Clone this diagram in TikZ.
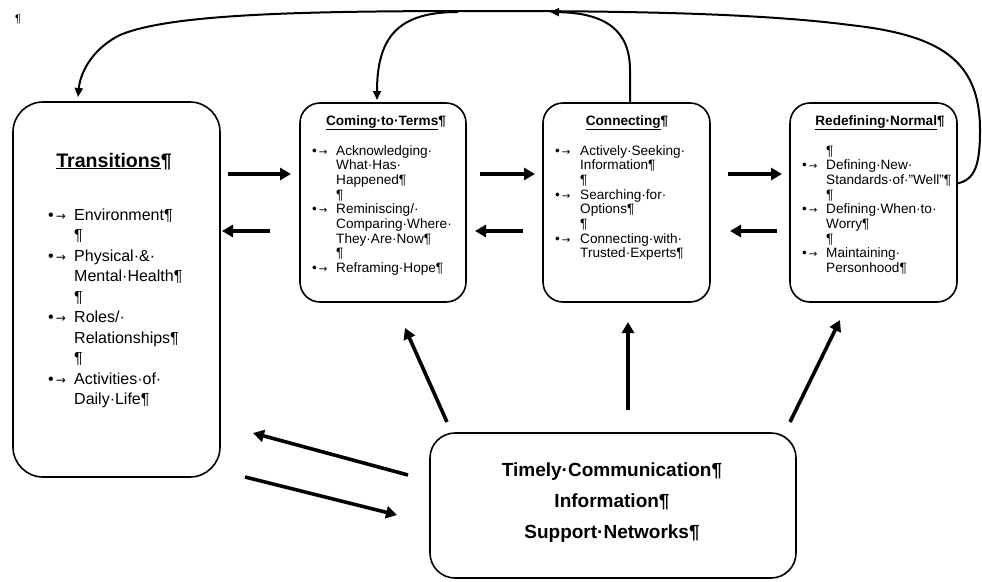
\documentclass[tikz,border=0pt]{standalone}
\usepackage{fontspec}
\setmainfont{Liberation Sans}
\newfontfamily\arrowfont{DejaVu Sans}
\usetikzlibrary{arrows.meta,calc}
\newcommand{\bu}{•\hspace{2pt}\scalebox{0.75}{\arrowfont →}}
\begin{document}
\begin{tikzpicture}[x=1pt,y=-1pt,
  box/.style={draw, line width=1.6pt, rounded corners=#1, inner sep=0pt, outer sep=0pt},
  fat/.style={line width=3.6pt, -{Triangle[length=11pt,width=12pt]}},
  curvy/.style={line width=2pt, -{Triangle[length=9pt,width=8pt]}},
  ttl/.style={anchor=base, font=\bfseries\fontsize{13.6}{15}\selectfont},
  lst/.style={anchor=base west, inner sep=0pt, font=\fontsize{13.6}{14.7}\selectfont},
  big/.style={anchor=base, font=\bfseries\fontsize{19}{22}\selectfont}
]
\useasboundingbox (0,0) rectangle (982,581);

% boxes
\node[box=30pt, minimum width=207pt, minimum height=375pt] (tr) at (116.5,289.5) {};
\node[box=20pt, minimum width=166pt, minimum height=199pt] (ct) at (383,202.5) {};
\node[box=20pt, minimum width=167pt, minimum height=199pt] (cn) at (626.5,202.5) {};
\node[box=20pt, minimum width=167pt, minimum height=199pt] (rn) at (873.5,202.5) {};
\node[box=25pt, minimum width=366pt, minimum height=145pt] (sp) at (613,505.5) {};

% top-left mark
\node[anchor=base, font=\fontsize{11}{11}\selectfont] (pm) at (18,22) {¶};

% Transitions
\node[anchor=base, font=\bfseries\fontsize{19.6}{22}\selectfont] (trt) at (114,167) {\underline{Transitions}¶};
\node[anchor=base west, inner sep=0pt, font=\fontsize{16}{20.5}\selectfont] (trl) at (48,220) {%
\begin{tabular}[t]{@{}p{26pt}@{}l@{}}
\bu & Environment¶\\
 & ¶\\
\bu & Physical·\&·\\
 & Mental·Health¶\\
 & ¶\\
\bu & Roles/·\\
 & Relationships¶\\
 & ¶\\
\bu & Activities·of·\\
 & Daily·Life¶
\end{tabular}};

% Coming to Terms
\node[ttl] (ctt) at (386,125) {\underline{Coming·to·Terms}¶};
\node[lst] (ctl) at (312,155) {%
\begin{tabular}[t]{@{}p{24pt}@{}l@{}}
\bu & Acknowledging·\\
 & What·Has·\\
 & Happened¶\\
 & ¶\\
\bu & Reminiscing/·\\
 & Comparing·Where·\\
 & They·Are·Now¶\\
 & ¶\\
\bu & Reframing·Hope¶
\end{tabular}};

% Connecting
\node[ttl] (cnt) at (627,125) {\underline{Connecting}¶};
\node[lst] (cnl) at (555,155) {%
\begin{tabular}[t]{@{}p{25pt}@{}l@{}}
\bu & Actively·Seeking·\\
 & Information¶\\
 & ¶\\
\bu & Searching·for·\\
 & Options¶\\
 & ¶\\
\bu & Connecting·with·\\
 & Trusted·Experts¶
\end{tabular}};

% Redefining Normal
\node[ttl] (rnt) at (880,125) {\underline{Redefining·Normal}¶};
\node[lst] (rnl) at (802,155) {%
\begin{tabular}[t]{@{}p{24pt}@{}l@{}}
 & ¶\\
\bu & Defining·New·\\
 & Standards·of·"Well"¶\\
 & ¶\\
\bu & Defining·When·to·\\
 & Worry¶\\
 & ¶\\
\bu & Maintaining·\\
 & Personhood¶
\end{tabular}};

% bottom box
\node[big] (b1) at (612,476) {Timely·Communication¶};
\node[big] (b2) at (612,507) {Information¶};
\node[big] (b3) at (612,538) {Support·Networks¶};

% row coordinates
\coordinate (r1) at (0,174);
\coordinate (r2) at (0,231);

% horizontal arrows
\draw[fat] ($(tr.east |- r1)+(8,0)$) -- ($(ct.west |- r1)+(-9,0)$);
\draw[fat] ($(ct.west |- r2)+(-30,0)$) -- ($(tr.east |- r2)+(2,0)$);
\draw[fat] ($(ct.east |- r1)+(14,0)$) -- ($(cn.west |- r1)+(-8,0)$);
\draw[fat] ($(cn.west |- r2)+(-20,0)$) -- ($(ct.east |- r2)+(9,0)$);
\draw[fat] ($(cn.east |- r1)+(18,0)$) -- ($(rn.west |- r1)+(-8,0)$);
\draw[fat] ($(rn.west |- r2)+(-13,0)$) -- ($(cn.east |- r2)+(20,0)$);

% bottom arrows
\draw[fat] ($(sp.west)+(-22,-30.5)$) -- ($(tr.east)+(33,143.5)$);
\draw[fat] ($(tr.east)+(25,187.5)$) -- ($(sp.west)+(-33,9.5)$);
\draw[fat] ($(sp.north west)+(17,-11)$) -- ($(ct.south)+(22,26)$);
\draw[fat] ($(sp.north)+(15,-23)$) -- ($(cn.south)+(1.5,20)$);
\draw[fat] ($(sp.north east)+(-6,-11)$) -- ($(rn.south)+(-33.5,18)$);

% top curves
\coordinate (t1) at (550,12);
\coordinate (t2) at (458,12);
\draw[curvy] ($(rn.east)+(0,-19)$) .. controls (975,180) and (980,165) .. (980,130)
  .. controls (980,60) and (940,35) .. (850,25)
  .. controls (750,12) and (600,11) .. (480,11)
  .. controls (300,11) and (170,14) .. (120,35)
  .. controls (90,50) and (80,75) .. ($(tr.north)+(-38.5,-5)$);
\draw[curvy] ($(cn.north)+(3.5,0)$) -- (630,70) .. controls (630,30) and (605,13) .. (t1);
\draw[curvy] (t2) .. controls (400,12) and (377,35) .. ($(ct.north)+(-6,-3)$);
\end{tikzpicture}
\end{document}
